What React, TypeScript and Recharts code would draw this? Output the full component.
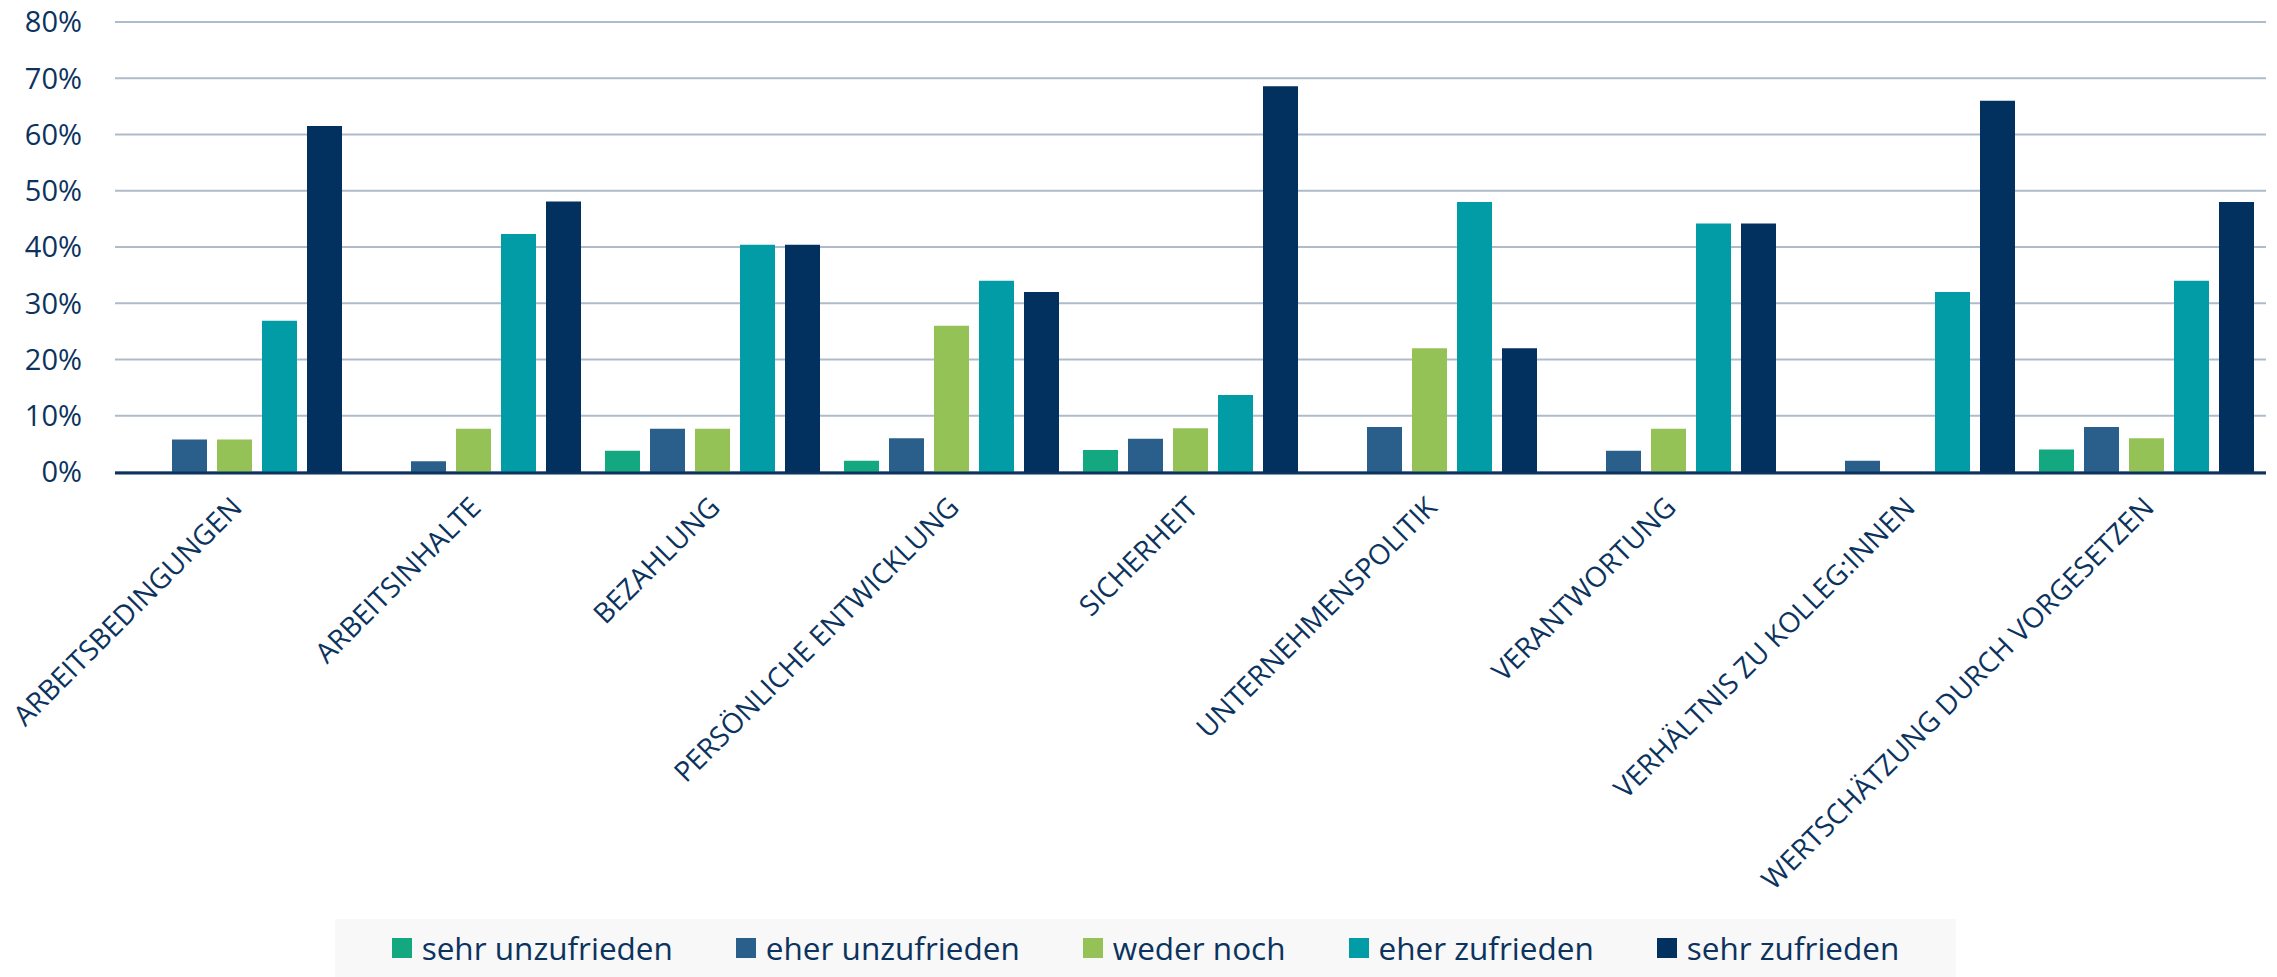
import { BarChart, Bar, XAxis, YAxis, CartesianGrid, Legend } from 'recharts';

const categories = [
  'ARBEITSBEDINGUNGEN',
  'ARBEITSINHALTE',
  'BEZAHLUNG',
  'PERSÖNLICHE ENTWICKLUNG',
  'SICHERHEIT',
  'UNTERNEHMENSPOLITIK',
  'VERANTWORTUNG',
  'VERHÄLTNIS ZU KOLLEG:INNEN',
  'WERTSCHÄTZUNG DURCH VORGESETZEN',
];

// percentages per category
const sehrUnzufrieden = [0, 0, 3.8, 2, 3.9, 0, 0, 0, 4];
const eherUnzufrieden = [5.8, 1.9, 7.7, 6, 5.9, 8, 3.8, 2, 8];
const wederNoch = [5.8, 7.7, 7.7, 26, 7.8, 22, 7.7, 0, 6];
const eherZufrieden = [26.9, 42.3, 40.4, 34, 13.7, 48, 44.2, 32, 34];
const sehrZufrieden = [61.5, 48.1, 40.4, 32, 68.6, 22, 44.2, 66, 48];

const yTicks = [0, 10, 20, 30, 40, 50, 60, 70, 80];
const edgeTicks = [0, 1, 2, 3, 4, 5, 6, 7, 8, 9];

const series = [
  { key: 'sehrUnzufrieden', name: 'sehr unzufrieden', color: '#13a87f' },
  { key: 'eherUnzufrieden', name: 'eher unzufrieden', color: '#2a5f8b' },
  { key: 'wederNoch', name: 'weder noch', color: '#95c256' },
  { key: 'eherZufrieden', name: 'eher zufrieden', color: '#029ca6' },
  { key: 'sehrZufrieden', name: 'sehr zufrieden', color: '#02315f' },
];

const navy = '#0b335e';
const font = '"Open Sans", sans-serif';

const data = categories.map((name, i) => ({
  name,
  sehrUnzufrieden: sehrUnzufrieden[i],
  eherUnzufrieden: eherUnzufrieden[i],
  wederNoch: wederNoch[i],
  eherZufrieden: eherZufrieden[i],
  sehrZufrieden: sehrZufrieden[i],
}));

// rotated category label, its end centred under the category
function CategoryTick({ x, y, payload }: any) {
  const ty = y + 30;
  return (
    <text
      x={x + 2}
      y={ty}
      dy="0.36em"
      transform={`rotate(-45, ${x + 2}, ${ty})`}
      textAnchor="end"
      fill={navy}
      fontSize={28}
      fontFamily={font}
    >
      {payload.value}
    </text>
  );
}

function LegendContent() {
  return (
    <div
      style={{
        display: 'flex',
        justifyContent: 'center',
        alignItems: 'center',
        height: '100%',
        gap: 63,
        fontFamily: font,
        fontSize: 31.5,
        lineHeight: 1,
        color: navy,
      }}
    >
      {series.map((s) => (
        <div key={s.key} style={{ display: 'flex', alignItems: 'center' }}>
          <span style={{ width: 20, height: 20, background: s.color, marginRight: 10, display: 'inline-block' }} />
          <span>{s.name}</span>
        </div>
      ))}
    </div>
  );
}

export default function App() {
  return (
    <div style={{ position: 'absolute', left: 0, top: 0, width: 2277, height: 977, background: '#fff' }}>
      <BarChart
        width={2277}
        height={977}
        data={data}
        margin={{ top: 22, right: 11, left: 0, bottom: 0 }}
        barCategoryGap={12}
        barGap={10}
      >
        <CartesianGrid vertical={false} stroke="#aebbca" strokeWidth={2} />
        <XAxis
          dataKey="name"
          height={1}
          interval={0}
          tickLine={false}
          axisLine={false}
          tickSize={0}
          tickMargin={0}
          tick={<CategoryTick />}
        />
        <XAxis
          xAxisId="edge"
          type="number"
          domain={[0, 9]}
          ticks={edgeTicks}
          allowDataOverflow
          height={504}
          tick={false}
          tickSize={10}
          tickLine={{ stroke: navy, strokeWidth: 3 }}
          axisLine={{ stroke: navy, strokeWidth: 3 }}
        />
        <YAxis
          domain={[0, 80]}
          ticks={yTicks}
          width={115}
          axisLine={false}
          tickLine={false}
          tickSize={0}
          tickMargin={33}
          tickFormatter={(v) => `${v}%`}
          tick={{ fill: navy, fontSize: 29, fontFamily: font }}
        />
        <Legend
          layout="horizontal"
          verticalAlign="middle"
          align="center"
          content={<LegendContent />}
          wrapperStyle={{ left: 335, top: 919, width: 1621, height: 58, background: '#f8f8f8' }}
        />
        {series.map((s) => (
          <Bar key={s.key} dataKey={s.key} name={s.name} fill={s.color} isAnimationActive={false} />
        ))}
      </BarChart>
    </div>
  );
}
